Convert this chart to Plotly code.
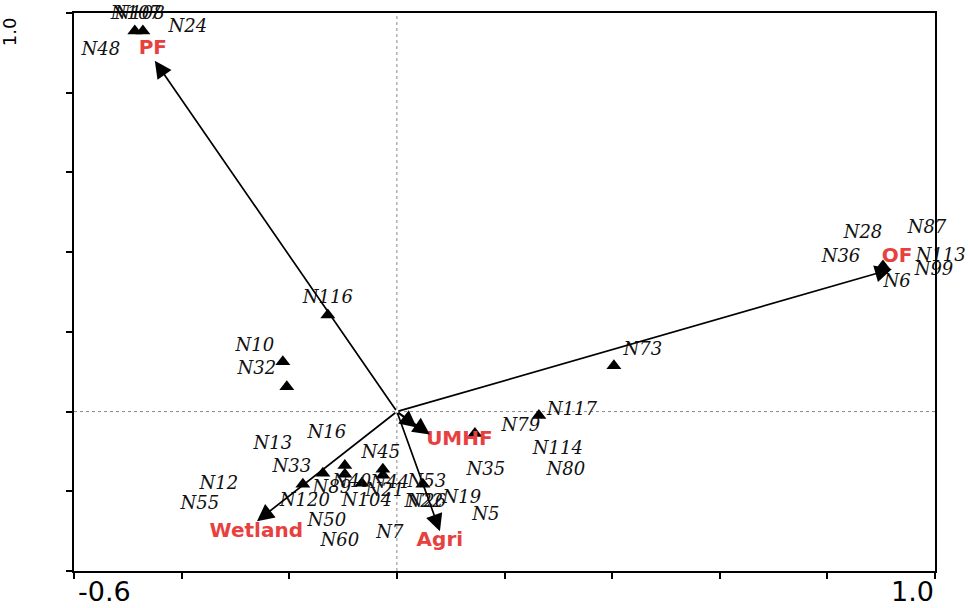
import plotly.graph_objects as go

# ---- data (ordination scores) ----
# site points (triangles)
site_x = [-0.487, -0.472, -0.1283, -0.2119, -0.2045, 0.4033, 0.9033, 0.2639, 0.145,
          -0.1747, -0.1375, -0.0967, -0.0967, -0.065, -0.026, -0.026, 0.0483]
site_y = [0.955, 0.955, 0.2425, 0.125, 0.0625, 0.115, 0.365, -0.01, -0.055,
          -0.1825, -0.155, -0.135, -0.1575, -0.18, -0.145, -0.16, -0.1825]

# site labels and their label positions
site_names = ["N107", "N108", "N24", "N48", "N116", "N10", "N32", "N73", "N117", "N79",
              "N114", "N80", "N35", "N19", "N5", "N7", "N60", "N50", "N55", "N12",
              "N13", "N16", "N33", "N45", "N53", "N120", "N89", "N40", "N104", "N44",
              "N21", "N22", "N26", "N28", "N87", "N36", "N113", "N99", "N6"]
label_x = [-0.485, -0.478, -0.3885, -0.5502, -0.1283, -0.2639, -0.2603, 0.4572, 0.3253, 0.2305,
           0.2992, 0.3141, 0.1655, 0.1208, 0.1655, -0.013, -0.1059, -0.1301, -0.3662, -0.3309,
           -0.2305, -0.1301, -0.1952, -0.0297, 0.0558, -0.171, -0.1208, -0.0837, -0.0558, -0.0130,
           -0.0223, 0.0502, 0.0558, 0.8662, 0.9851, 0.8253, 0.964, 0.9981, 0.9294]
label_y = [0.9975, 0.9975, 0.9625, 0.905, 0.2825, 0.1625, 0.105, 0.1525, 0.0025, -0.0375,
           -0.095, -0.1475, -0.1475, -0.2175, -0.26, -0.305, -0.325, -0.275, -0.2325, -0.1825,
           -0.0825, -0.055, -0.14, -0.105, -0.1775, -0.225, -0.1925, -0.1775, -0.225, -0.18,
           -0.2, -0.2275, -0.2275, 0.4475, 0.46, 0.3875, 0.39, 0.355, 0.325]
label_pos = ["middle center"] * len(site_names)
label_pos[site_names.index("N113")] = "middle right"

# environmental variable arrows (tips), origin at (0, 0)
env_x = [-0.4498, 0.920, 0.0613, 0.037, 0.080, -0.260]
env_y = [0.880, 0.3575, -0.0575, -0.040, -0.300, -0.275]
# env label positions
env_lab_names = ["PF", "OF", "UMHF", "Agri", "Wetland"]
env_lab_x = [-0.4535, 0.9294, 0.1162, 0.0799, -0.2612]
env_lab_y = [0.91, 0.3875, -0.0725, -0.325, -0.3025]

# axis ticks
x_ticks = [-0.6, -0.4, -0.2, 0.0, 0.2, 0.4, 0.6, 0.8, 1.0]
y_ticks = [-0.4, -0.2, 0.0, 0.2, 0.4, 0.6, 0.8, 1.0]

RED = "#e8403f"

fig = go.Figure()

# zero reference lines
fig.add_shape(type="line", x0=0, x1=0, y0=-0.4, y1=1.0, xref="x", yref="y",
              line=dict(color="#888888", width=1, dash="dot"), layer="below")
fig.add_shape(type="line", x0=-0.6, x1=1.0, y0=0, y1=0, xref="x", yref="y",
              line=dict(color="#888888", width=1, dash="dot"), layer="below")

# arrows
for ex, ey in zip(env_x, env_y):
    fig.add_annotation(x=ex, y=ey, ax=0, ay=0, xref="x", yref="y", axref="x", ayref="y",
                       text="", showarrow=True, arrowhead=2, arrowsize=2.0,
                       arrowwidth=1.7, arrowcolor="black", standoff=0, startstandoff=0)

# site triangles
fig.add_trace(go.Scatter(x=site_x, y=site_y, mode="markers",
                         marker=dict(symbol="triangle-up", size=13, color="black"),
                         hoverinfo="skip", showlegend=False))

# site labels
fig.add_trace(go.Scatter(x=label_x, y=label_y, mode="text",
                         text=["<i>" + s + "</i>" for s in site_names],
                         textposition=label_pos,
                         textfont=dict(family="DejaVu Serif", size=18, color="#111111"),
                         cliponaxis=False, hoverinfo="skip", showlegend=False))

# env labels
fig.add_trace(go.Scatter(x=env_lab_x, y=env_lab_y, mode="text",
                         text=["<b>" + s + "</b>" for s in env_lab_names],
                         textposition="middle center",
                         textfont=dict(family="DejaVu Sans", size=20, color=RED),
                         cliponaxis=False, hoverinfo="skip", showlegend=False))

# axis end labels
fig.add_annotation(x=0.0023, y=0, xref="paper", yref="paper", text="-0.6",
                   xanchor="left", yanchor="middle", yshift=-20, showarrow=False,
                   font=dict(family="DejaVu Sans", size=27, color="black"))
fig.add_annotation(x=1.001, y=0, xref="paper", yref="paper", text="1.0",
                   xanchor="right", yanchor="middle", yshift=-20, showarrow=False,
                   font=dict(family="DejaVu Sans", size=27, color="black"))
fig.add_annotation(x=-0.074, y=0.966, xref="paper", yref="paper", text="1.0",
                   textangle=-90, xanchor="center", yanchor="middle", showarrow=False,
                   font=dict(family="DejaVu Sans", size=18, color="black"))

fig.update_xaxes(range=[-0.6, 1.0], tickvals=x_ticks, showticklabels=False,
                 ticks="outside", ticklen=6, tickwidth=2, tickcolor="black",
                 showline=True, linecolor="black", linewidth=2, mirror=True,
                 showgrid=False, zeroline=False)
fig.update_yaxes(range=[-0.4, 1.0], tickvals=y_ticks, showticklabels=False,
                 ticks="outside", ticklen=6, tickwidth=2, tickcolor="black",
                 showline=True, linecolor="black", linewidth=2, mirror=True,
                 showgrid=False, zeroline=False)

fig.update_layout(width=970, height=608,
                  margin=dict(l=74, r=35, t=11, b=37),
                  plot_bgcolor="white", paper_bgcolor="white",
                  showlegend=False)

fig.write_html("out.html")
